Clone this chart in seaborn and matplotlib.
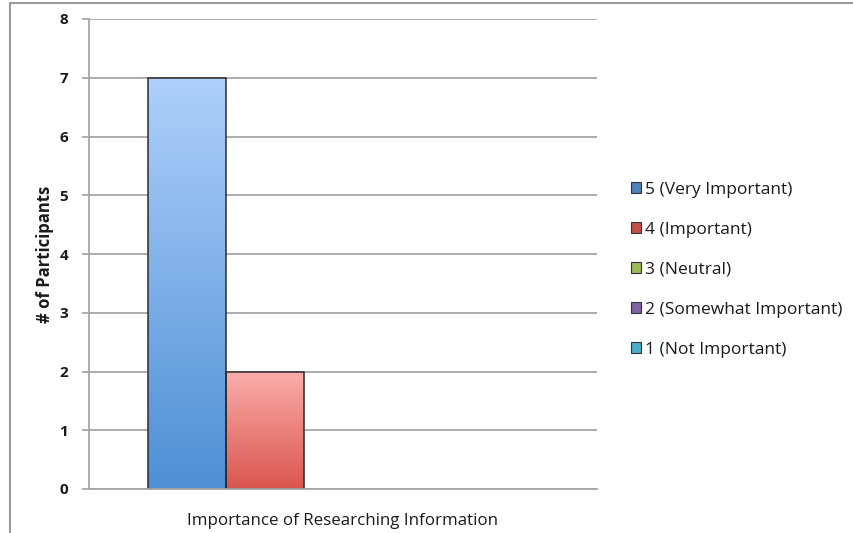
import numpy as np
import pandas as pd
import matplotlib
matplotlib.use("Agg")
import matplotlib.pyplot as plt
from matplotlib.lines import Line2D
from matplotlib.patches import Patch
from matplotlib.colors import LinearSegmentedColormap
import seaborn as sns

# Survey responses
category = ["Importance of Researching Information"]
ratings = ["5 (Very Important)", "4 (Important)", "3 (Neutral)",
           "2 (Somewhat Important)", "1 (Not Important)"]
participants = [7, 2, 0, 0, 0]

palette = ["#4f81bd", "#c0504d", "#9bbb59", "#8064a2", "#4bacc6"]
gradients = {
    "5 (Very Important)": ("#aed0fb", "#4e8fd5"),
    "4 (Important)": ("#fbadab", "#d9564e"),
}

df = pd.DataFrame({
    "category": category * len(ratings),
    "rating": ratings,
    "count": participants,
})

sns.set_theme(style="white")
plt.rcParams["font.family"] = ["Open Sans", "DejaVu Sans"]

fig = plt.figure(figsize=(8.54, 5.33), dpi=100)
ax = fig.add_axes([89 / 854, 44 / 533, 508 / 854, 470 / 533])

sns.barplot(data=df, x="category", y="count", hue="rating",
            hue_order=ratings, palette=palette, width=0.766,
            edgecolor="#2b2b2b", linewidth=1.1, saturation=1,
            legend=False, ax=ax)

ax.set_xlim(-0.5, 0.5)
ax.set_ylim(0, 8)
ax.set_yticks(range(0, 9))
ax.yaxis.grid(True, color="#a6a6a6", linewidth=1.3)
ax.set_axisbelow(True)

# Gradient fill on each non-empty bar
for patch, rating, val in zip(ax.patches, ratings, participants):
    if val == 0:
        patch.set_visible(False)
        continue
    top, bottom = gradients[rating]
    cmap = LinearSegmentedColormap.from_list(rating, [bottom, top])
    x0, y0 = patch.get_x(), patch.get_y()
    w, h = patch.get_width(), patch.get_height()
    grad = np.linspace(0, 1, 256).reshape(-1, 1)
    im = ax.imshow(grad, cmap=cmap, origin="lower", aspect="auto",
                   extent=[x0, x0 + w, y0, y0 + h], zorder=patch.get_zorder())
    im.set_clip_path(patch)
    patch.set_facecolor("none")
    patch.set_zorder(patch.get_zorder() + 0.1)
ax.set_xlim(-0.5, 0.5)
ax.set_ylim(0, 8)

for side in ["top", "right"]:
    ax.spines[side].set_visible(False)
ax.spines["left"].set_color("#a6a6a6")
ax.spines["left"].set_linewidth(1.3)
ax.spines["bottom"].set_color("#a6a6a6")
ax.spines["bottom"].set_linewidth(1.3)

ax.tick_params(axis="y", which="major", left=True, length=5, width=1.3,
               color="#a6a6a6", pad=10, labelsize=11, labelcolor="#1a1a1a")
ax.tick_params(axis="x", bottom=False, pad=11, labelsize=12.2,
               labelcolor="#1a1a1a")
for lbl in ax.get_yticklabels():
    lbl.set_fontweight("bold")

ax.set_xlabel("")
ax.set_ylabel("# of Participants", fontsize=12, fontweight="bold",
              color="#1a1a1a", labelpad=4)

handles = [Patch(facecolor=c, edgecolor="#333333", linewidth=0.8)
           for c in palette]
ax.legend(handles, ratings, loc="center left",
          bbox_to_anchor=(622 / 854, 263 / 533),
          bbox_transform=fig.transFigure, frameon=False, fontsize=12.5,
          labelspacing=1.38, handlelength=0.6, handleheight=0.6,
          handletextpad=0.2, borderpad=0, labelcolor="#1a1a1a")

# Outer frame lines (top and left)
fig.add_artist(Line2D([10 / 854, 1], [1 - 3 / 533, 1 - 3 / 533],
                      transform=fig.transFigure, color="#9a9a9a", lw=1.5))
fig.add_artist(Line2D([10 / 854, 10 / 854], [0, 1 - 3 / 533],
                      transform=fig.transFigure, color="#9a9a9a", lw=1.5))

fig.savefig("out.png", dpi=100)
